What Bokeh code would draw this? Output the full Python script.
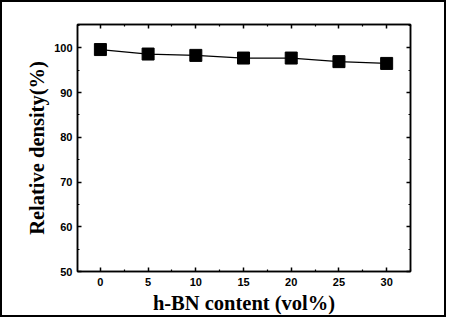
from bokeh.plotting import figure
from bokeh.models import FixedTicker, LinearAxis, Range1d
from bokeh.embed import file_html
from bokeh.resources import INLINE

hbn_content = [0, 5, 10, 15, 20, 25, 30]
relative_density = [99.6, 98.6, 98.3, 97.7, 97.7, 96.9, 96.5]
x_ticks = [0, 5, 10, 15, 20, 25, 30]
x_minor = [-2.5, 2.5, 7.5, 12.5, 17.5, 22.5, 27.5, 32.5]
y_ticks = [50, 60, 70, 80, 90, 100]
y_minor = [55, 65, 75, 85, 95, 105]

p = figure(width=442, height=313, output_backend="svg", toolbar_location=None,
           x_range=Range1d(-2.4, 32.5), y_range=Range1d(50, 105.2),
           min_border_left=75, min_border_right=38, min_border_top=22, min_border_bottom=48,
           x_axis_label="h-BN content (vol%)", y_axis_label="Relative density(%)")
p.styles = {"border": "2px solid black", "box-sizing": "content-box"}
p.xgrid.visible = False
p.ygrid.visible = False
p.outline_line_color = "black"
p.outline_line_width = 1.5
p.background_fill_color = "white"
p.border_fill_color = "white"

p.line(hbn_content, relative_density, line_color="black", line_width=1.2)
p.scatter(hbn_content, relative_density, marker="square", size=12,
          fill_color="black", line_color="black")

def style_axis(ax, ticks, minor, labels=True):
    ax.ticker = FixedTicker(ticks=ticks, minor_ticks=minor)
    ax.axis_line_color = "black"
    ax.axis_line_width = 1.5
    ax.major_tick_in = 4
    ax.major_tick_out = 0
    ax.minor_tick_in = 2
    ax.minor_tick_out = 0
    ax.major_tick_line_color = "black"
    ax.minor_tick_line_color = "black"
    ax.major_tick_line_width = 1.5
    ax.minor_tick_line_width = 1.2
    if labels:
        ax.major_label_text_font = "Liberation Sans"
        ax.major_label_text_font_style = "bold"
        ax.major_label_text_font_size = "11px"
        ax.major_label_text_color = "black"
        ax.axis_label_text_font = "Liberation Serif"
        ax.axis_label_text_font_style = "bold"
        ax.axis_label_text_font_size = "20.5px"
        ax.axis_label_text_color = "black"
    else:
        ax.major_label_text_color = None
        ax.major_label_standoff = 0

style_axis(p.xaxis[0], x_ticks, x_minor)
style_axis(p.yaxis[0], y_ticks, y_minor)
p.xaxis[0].major_label_standoff = 6
p.xaxis[0].axis_label_standoff = 3
p.yaxis[0].major_label_standoff = 5
p.yaxis[0].axis_label_standoff = 3

top = LinearAxis()
style_axis(top, x_ticks, x_minor, labels=False)
p.add_layout(top, "above")
right = LinearAxis()
style_axis(right, y_ticks, y_minor, labels=False)
p.add_layout(right, "right")

open("out.html", "w").write(file_html(p, INLINE))
